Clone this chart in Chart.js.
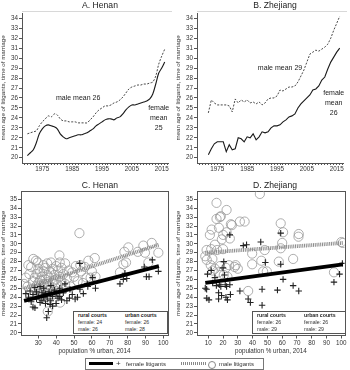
<!DOCTYPE html>
<html>
<head>
<meta charset="utf-8">
<script src="https://cdn.jsdelivr.net/npm/chart.js@4.4.1/dist/chart.umd.min.js"></script>
<style>
body{margin:0;background:#fff;font-family:"Liberation Sans",Arial,sans-serif;}
#wrap{position:relative;width:350px;height:370px;overflow:hidden;background:#fff;}
canvas{position:absolute;}
.ttl{position:absolute;width:120px;margin-left:-60px;text-align:center;font-size:8.6px;line-height:10px;color:#222;}
.inset{position:absolute;border:1px solid #555;background:#fff;color:#333;font-size:5.2px;line-height:7px;}
.inset div{position:absolute;white-space:nowrap;}
.inset b{font-weight:bold;color:#222;}
#legend{position:absolute;left:85px;top:358px;width:177px;height:10px;border:1px solid #777;font-size:6px;line-height:10px;color:#333;}
#legend div{position:absolute;white-space:nowrap;}
</style>
</head>
<body>
<div id="wrap">
  <canvas id="chartA" width="175" height="178" style="left:0;top:0"></canvas>
  <canvas id="chartB" width="175" height="178" style="left:175px;top:0"></canvas>
  <canvas id="chartC" width="175" height="180" style="left:0;top:175px"></canvas>
  <canvas id="chartD" width="175" height="180" style="left:175px;top:175px"></canvas>

  <div class="ttl" style="left:100px;top:0px">A. Henan</div>
  <div class="ttl" style="left:275px;top:0px">B. Zhejiang</div>
  <div class="ttl" style="left:100px;top:180px">C. Henan</div>
  <div class="ttl" style="left:275px;top:180px">D. Zhejiang</div>

  <div class="inset" id="insetC" style="left:73px;top:311px;width:93px;height:21px"></div>
  <div class="inset" id="insetD" style="left:252px;top:311px;width:92px;height:21px"></div>

  <div id="legend">
    <div style="left:3px;top:3px;width:24px;height:3px;background:#000"></div>
    <div style="left:30px;top:0;font-size:8px">+</div>
    <div style="left:40px;top:0">female litigants</div>
    <div style="left:95px;top:3px;width:25px;height:3px;background:repeating-linear-gradient(90deg,#888 0 1px,#fff 1px 2px)"></div>
    <div style="left:122px;top:1.5px;width:6px;height:6px;border:0.8px solid #888;border-radius:50%"></div>
    <div style="left:133px;top:0">male litigants</div>
  </div>
</div>

<script>
// time series, panels A and B
const years = [1970,1971,1972,1973,1974,1975,1976,1977,1978,1979,
               1980,1981,1982,1983,1984,1985,1986,1987,1988,1989,
               1990,1991,1992,1993,1994,1995,1996,1997,1998,1999,
               2000,2001,2002,2003,2004,2005,2006,2007,2008,2009,
               2010,2011,2012,2013,2014,2015,2016];
const henanFemale = [20.2,20.5,20.8,21.5,22.4,22.9,23.2,23.3,23.2,23.1,
                     22.9,22.4,22.1,21.9,22.0,22.1,22.2,22.3,22.3,22.4,
                     22.5,22.7,22.9,23.2,23.4,23.6,23.8,23.9,23.9,23.8,
                     24.0,24.1,24.4,24.8,25.1,25.3,25.3,25.4,25.5,25.6,
                     25.7,25.9,26.4,27.4,28.5,29.0,29.6];
const henanMale = [22.4,22.5,22.6,22.7,23.2,23.6,23.9,24.2,24.1,24.4,
                   24.3,23.9,23.7,23.7,23.6,23.6,23.6,23.5,23.5,23.5,
                   23.5,23.8,24.1,24.5,24.8,25.0,25.2,25.2,25.3,25.5,
                   25.6,25.8,26.1,26.5,26.9,27.1,27.2,27.3,27.3,27.4,
                   27.4,27.5,27.6,28.2,29.4,30.2,30.9];
const zhejiangFemale = [null,null,20.3,20.9,21.4,21.6,21.6,21.6,20.6,21.3,
                        20.8,20.9,22.0,21.9,21.6,22.1,22.0,22.4,21.8,22.1,
                        22.6,22.5,22.6,23.0,23.2,23.2,23.3,23.6,23.8,24.1,
                        24.2,24.4,25.0,25.4,25.7,26.0,26.3,26.8,26.9,27.2,
                        27.8,28.1,28.9,29.6,30.1,30.6,31.0];
const zhejiangMale = [null,null,24.5,25.8,25.5,25.3,25.3,25.3,25.3,25.2,
                      24.6,25.9,25.5,25.8,25.6,25.8,25.5,25.6,25.4,25.6,
                      25.3,25.5,25.9,26.0,26.0,26.2,26.8,26.7,26.9,27.1,
                      27.1,27.2,27.6,28.2,28.8,29.6,30.4,30.6,30.8,30.7,
                      30.9,31.1,31.4,32.0,32.8,33.5,34.2];
const yearLabels = [1975,1985,1995,2005,2015];

// text placed in data units: [year, age, text lines]
const henanNotes = [[1987,26,['male mean 26']],[2014,24,['female','mean','25']]];
const zhejiangNotes = [[1996,29,['male mean 29']],[2014,25.5,['female','mean','26']]];

// courts, panels C and D: [population % urban, mean age]
const henanMalePts = [[22,25.5],[23,26.2],[24,25.2],[24.4,27.6],[25,26.6],[26,24.6],[26,27.4],[27,25.8],[27.2,28.3],[28,24.9],
  [28,26.2],[28.7,28.1],[29,25.3],[29,26.6],[29.7,27.9],[30,24.4],[30,25.6],[30,27.2],[31,24.8],[31,25.9],
  [31,26.8],[32,24.2],[32,25.2],[32,26.3],[32.8,27.6],[33,24.6],[33,25.5],[33,26.9],[34,24.0],[34,25.1],
  [34,26.0],[34,27.3],[35.3,22.4],[35,24.5],[35,25.7],[35,26.5],[35,27.8],[36,24.8],[36,25.3],[36,26.2],
  [37,25.0],[37,26.8],[37.1,27.9],[38,24.3],[38,25.6],[38,27.2],[39,25.9],[39,26.5],[40,24.7],[40,26.0],
  [40,27.5],[41,25.4],[41,27.0],[41.8,28.7],[42.2,23.4],[42,26.3],[42,27.9],[43,25.8],[43,27.3],[44,24.9],
  [44,26.6],[45,25.5],[45,27.8],[46,26.1],[47,27.0],[48,25.2],[49,26.8],[50,26.3],[51,27.5],[52,25.8],
  [53,31.2],[53.5,27.6],[54,26.9],[55,25.6],[56.1,27.4],[57,26.2],[58,28.1],[59.3,26.2],[60,26.9],[61.6,28.4],
  [62,26.3],[75.7,26.8],[77.6,27.7],[78.2,29.1],[79.1,27.9],[80.4,29.6],[85.7,29.1],[88.8,29.8],[89.7,29.0],[91.6,27.9],
  [93.5,30.1],[97.2,29.0]];
const henanFemalePts = [[23,24.4],[24.5,24.0],[25.4,24.7],[26,23.5],[27,22.9],[27,24.3],[28,25.1],[28.1,22.8],[29,23.8],[29,24.6],
  [30,24.1],[31,23.4],[31,25.2],[32,23.6],[32,24.5],[33,24.0],[33,25.0],[34,23.3],[34,24.4],[34.7,21.7],
  [35,23.8],[35.6,22.4],[36,24.6],[36.6,23.2],[37,23.6],[37,25.3],[38,24.1],[38,23.0],[39,24.8],[40,23.3],
  [40,24.4],[41,23.9],[42,24.1],[42,25.0],[43,23.7],[44,24.5],[44.9,25.5],[46,23.6],[47.4,23.9],[47.7,24.9],
  [49,24.3],[50.6,23.8],[51.9,24.0],[53.2,27.8],[53.3,24.9],[55.2,24.4],[57.4,25.5],[57.7,25.2],[60.4,26.2],[62,25.0],
  [75.7,25.5],[77.6,26.0],[78.5,26.7],[79.5,26.1],[89.3,27.4],[90.5,26.3],[92,26.3],[93.8,28.2],[97.2,26.9]];
const zhejiangMalePts = [[8.9,29.3],[8,28.6],[9,28.2],[11.1,31.0],[12.3,31.6],[12,29.4],[11.7,27.6],[12.8,28.3],[13,27.0],[14.5,27.2],
  [14.5,29.9],[15.6,34.6],[15.6,32.8],[16,29.3],[17.2,31.8],[17.9,33.0],[18.5,33.1],[17,26.8],[18,27.5],[19.2,30.5],
  [20.1,31.0],[20,29.4],[20.5,26.5],[22.4,33.8],[22.4,31.3],[22,27.3],[23,26.3],[24.6,30.6],[25.3,32.2],[26,32.1],
  [24,27.6],[27.8,27.4],[28.5,27.6],[30,27.2],[31.4,32.5],[34.6,32.5],[37,24.7],[39.7,27.7],[39.7,28.9],[44.9,35.6],
  [45.9,28.1],[47.1,26.9],[48.2,29.3],[49.6,26.9],[57.7,28.0],[59,29.5],[60,30.1],[59,32.3],[60.6,31.3],[67.4,28.3],
  [71.2,31.1],[71,30.8],[95,26.8],[100,30.2],[101,30.1]];
const zhejiangFemalePts = [[8.9,24.9],[9,23.9],[10.5,23.7],[8,25.0],[9.5,26.6],[12,27.0],[13,25.6],[14.5,26.2],[15.5,25.3],[17,24.5],
  [17.5,25.4],[17,23.8],[18.5,25.2],[19,24.2],[20,27.3],[20.5,28.0],[21,26.5],[21.5,25.4],[22,24.0],[22.4,25.2],
  [23,23.7],[24.6,31.0],[24.6,25.4],[25,24.3],[31.4,24.7],[33.7,29.8],[35.9,29.9],[37,23.8],[38.5,23.4],[45.5,30.2],
  [46.4,24.9],[46.4,23.1],[48.6,27.9],[56.8,24.8],[59,27.7],[59,31.2],[60.6,26.0],[67.4,25.3],[71.2,24.7],[95,25.7],
  [98.8,26.6],[100.7,27.8]];

// fitted lines: ends at the two x values
const henanFitX = [22, 97.5];
const henanFitFemale = [23.6, 27.5];
const henanFitMale = [25.0, 29.9];
const zhejiangFitX = [8, 101];
const zhejiangFitFemale = [25.6, 27.7];
const zhejiangFitMale = [29.0, 30.1];

// group means shown in the boxes
const henanMeans = {rural:{female:24, male:26}, urban:{female:26, male:28}};
const zhejiangMeans = {rural:{female:26, male:29}, urban:{female:26, male:29}};

const ageTitle = 'mean age of litigants, time of marriage';
const axisCol = '#555';
const txtCol = '#333';

// box round the plot area; topOnly draws just the upper edge
const framePlugin = {
	id:'frame',
	beforeDraw(chart, args, opts){
		if(!opts.color) return;
		const a = chart.chartArea, ctx = chart.ctx;
		ctx.save();
		ctx.strokeStyle = opts.color;
		ctx.lineWidth = 1;
		if(opts.topOnly){
			let y = Math.round(a.top) - opts.lift + 0.5;
			ctx.beginPath();
			ctx.moveTo(a.left, y);
			ctx.lineTo(a.right + opts.extra, y);
			ctx.stroke();
		} else {
			ctx.strokeRect(Math.round(a.left)+0.5, Math.round(a.top)+0.5, Math.round(a.right-a.left), Math.round(a.bottom-a.top));
		}
		ctx.restore();
	}
};

const notePlugin = {
	id:'notes',
	afterDatasetsDraw(chart, args, opts){
		if(!opts.items) return;
		const ctx = chart.ctx;
		ctx.save();
		ctx.fillStyle = '#222';
		ctx.font = '7px "Liberation Sans", Arial, sans-serif';
		ctx.textAlign = 'center';
		ctx.textBaseline = 'middle';
		for (const n of opts.items){
			let px = chart.scales.x.getPixelForValue(n[0]);
			let py = chart.scales.y.getPixelForValue(n[1]);
			let lines = n[2];
			for (let i=0;i<lines.length;i++){
				ctx.fillText(lines[i], px, py + (i-(lines.length-1)/2)*10);
			}
		}
		ctx.restore();
	}
};

function ageAxis(min, max, w){
	return {
		type:'linear', min:min, max:max,
		ticks:{stepSize:1, includeBounds:false, autoSkip:false, color:txtCol, font:{size:6.3}, padding:1},
		grid:{drawOnChartArea:false, drawTicks:true, tickLength:3, color:axisCol},
		border:{display:true, color:axisCol, width:1},
		title:{display:true, text:ageTitle, color:txtCol, font:{size:6.2}, padding:0},
		afterFit(s){ s.width = w; }
	};
}

function yearAxis(){
	return {
		type:'linear', min:1968.2, max:2017.1,
		ticks:{stepSize:1, includeBounds:false, autoSkip:false, maxRotation:0, color:txtCol, font:{size:6.3}, padding:0,
			callback:v => yearLabels.includes(v) ? String(v) : ''},
		grid:{drawOnChartArea:false, drawTicks:true, tickLength:2, color:axisCol},
		border:{display:true, color:axisCol, width:1},
		afterFit(s){ s.height = 15; }
	};
}

function urbanAxis(min, max, h){
	return {
		type:'linear', min:min, max:max,
		ticks:{stepSize:10, includeBounds:false, autoSkip:false, maxRotation:0, color:txtCol, font:{size:6.3}, padding:1},
		grid:{drawOnChartArea:false, drawTicks:true, tickLength:3, color:axisCol},
		border:{display:true, color:axisCol, width:1},
		title:{display:true, text:'population % urban, 2014', color:txtCol, font:{size:6.3}, padding:0},
		afterFit(s){ s.height = h; }
	};
}

function toXY(xs, ys){ return xs.map((x,i) => ({x:x, y:ys[i]})); }
function pts(arr){ return arr.map(p => ({x:p[0], y:p[1]})); }

function drawSeries(canvas_id, female, male, notes, tension){
	return new Chart(document.getElementById(canvas_id), {
		type:'line',
		data:{datasets:[
			{data:toXY(years, female), borderColor:'#1a1a1a', borderWidth:1.1, pointRadius:0, tension:tension},
			{data:toXY(years, male), borderColor:'#333', borderWidth:0.9, borderDash:[2,1.5], pointRadius:0, tension:tension}
		]},
		options:{
			responsive:false, animation:false,
			layout:{padding:{left:0, top:13, right:7, bottom:0}},
			plugins:{legend:{display:false}, tooltip:{enabled:false},
				notes:{items:notes}, frame:{color:'#d8d8d8', topOnly:true, lift:2, extra:4}},
			scales:{x:yearAxis(), y:ageAxis(19.47, 34.53, 22)}
		},
		plugins:[framePlugin, notePlugin]
	});
}

function drawCourts(canvas_id, malePts, femalePts, fitX, fitF, fitM, xmin, xmax, yw, padR){
	return new Chart(document.getElementById(canvas_id), {
		type:'scatter',
		data:{datasets:[
			{type:'line', data:toXY(fitX, fitF), borderColor:'#000', borderWidth:3.8, pointRadius:0, order:0},
			{type:'line', data:toXY(fitX, fitM), borderColor:'#8c8c8c', borderWidth:3.8, borderDash:[1,0.8], pointRadius:0, order:1},
			{data:pts(femalePts), pointStyle:'cross', pointRadius:3.2, borderColor:'#222', borderWidth:1.1, backgroundColor:'#222', order:2},
			{data:pts(malePts), pointStyle:'circle', pointRadius:4.6, borderColor:'#999', borderWidth:0.8, backgroundColor:'rgba(0,0,0,0)', order:3}
		]},
		options:{
			responsive:false, animation:false,
			layout:{padding:{left:0, top:16.3, right:padR, bottom:0}},
			plugins:{legend:{display:false}, tooltip:{enabled:false}, frame:{color:'#555'}},
			scales:{x:urbanAxis(xmin, xmax, 19.5), y:ageAxis(19.7, 35.9, yw)}
		},
		plugins:[framePlugin]
	});
}

function writeInset(el_id, m){
	let html = "";
	html += "<div style='left:4px;top:0'><b>rural courts</b></div>";
	html += "<div style='left:4px;top:7px'>female: "+m.rural.female+"</div>";
	html += "<div style='left:4px;top:14px'>male: "+m.rural.male+"</div>";
	html += "<div style='left:51px;top:0'><b>urban courts</b></div>";
	html += "<div style='left:51px;top:7px'>female: "+m.urban.female+"</div>";
	html += "<div style='left:51px;top:14px'>male: "+m.urban.male+"</div>";
	document.getElementById(el_id).innerHTML = html;
}

drawSeries('chartA', henanFemale, henanMale, henanNotes, 0.3);
drawSeries('chartB', zhejiangFemale, zhejiangMale, zhejiangNotes, 0);
drawCourts('chartC', henanMalePts, henanFemalePts, henanFitX, henanFitFemale, henanFitMale, 20.3, 102.6, 21, 7);
drawCourts('chartD', zhejiangMalePts, zhejiangFemalePts, zhejiangFitX, zhejiangFitFemale, zhejiangFitMale, 2.4, 102.2, 22, 5);
writeInset('insetC', henanMeans);
writeInset('insetD', zhejiangMeans);
</script>
</body>
</html>
